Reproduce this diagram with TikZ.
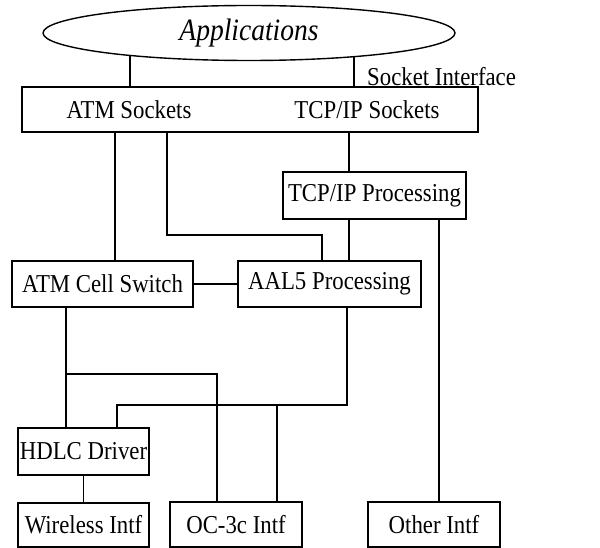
\documentclass[tikz,border=0pt]{standalone}
\usepackage{fontspec}
\usepackage{graphicx}
\setmainfont{Liberation Serif}
\usetikzlibrary{shapes.geometric}
\newcommand\tallt[1]{\scalebox{1.0}[1.13]{#1}}
\begin{document}
\begin{tikzpicture}[x=1pt,y=-1pt,
  box/.style={draw,line width=1.7pt,inner sep=0pt,minimum width=#1,align=center},
  lbl/.style={inner sep=0pt},
  conn/.style={line width=1.6pt}]
\useasboundingbox (0,0) rectangle (600,548);
\tikzset{every node/.append style={font=\fontsize{22.8}{26}\selectfont}}
% nodes
\node[draw,ellipse,line width=1.4pt,inner sep=0pt,minimum width=412pt,minimum height=55pt,
      font=\fontsize{27.5}{30}\selectfont\itshape] (app) at (249,33) {\tallt{Applications}};
\node[lbl,anchor=west] (si) at (367,77) {\tallt{Socket Interface}};
\node[box=456pt,minimum height=45pt] (sock) at (250,109.5) {};
\node[lbl] (atms) at (129,110) {\tallt{ATM Sockets}};
\node[lbl] (tcps) at (367,110) {\tallt{TCP/IP Sockets}};
\node[box=183pt,minimum height=47pt] (tcpp) at (374.5,195.5) {\tallt{TCP/IP Processing}};
\node[box=181pt,minimum height=46pt] (atmcs) at (102.5,284) {\tallt{ATM Cell Switch}};
\node[box=183pt,minimum height=46pt] (aal5) at (329.5,284) {\tallt{AAL5 Processing}};
\node[box=131pt,minimum height=47pt] (hdlc) at (83.5,451.5) {\tallt{HDLC Driver}};
\node[box=131pt,minimum height=44pt] (wire) at (83.5,525) {\tallt{Wireless Intf}};
\node[box=132pt,minimum height=45pt] (oc3) at (236,524.5) {\tallt{OC-3c Intf}};
\node[box=132pt,minimum height=45pt] (other) at (434,524.5) {\tallt{Other Intf}};
% column coordinates
\coordinate (c115) at (115,0);
\coordinate (c167) at (167,0);
\coordinate (c349) at (349,0);
\coordinate (c439) at (439,0);
\coordinate (c66) at (66,0);
\coordinate (c217) at (217,0);
\coordinate (c347) at (347,0);
\coordinate (j1) at (322,235);
\coordinate (j2) at (66,374);
\coordinate (j3) at (117,405);
\coordinate (j4) at (277,405);
% connectors
\draw[conn] (app.191.4) -- (app.191.4 |- sock.north);
\draw[conn] (app.-13.35) -- (app.-13.35 |- sock.north);
\draw[conn] (sock.south -| c115) -- (atmcs.north -| c115);
\draw[conn] (sock.south -| c167) |- (j1) -- (j1 |- aal5.north);
\draw[conn] (sock.south -| c349) -- (tcpp.north -| c349);
\draw[conn] (tcpp.south -| c349) -- (aal5.north -| c349);
\draw[conn] (tcpp.south -| c439) -- (other.north -| c439);
\draw[conn] (atmcs.east) -- (aal5.west);
\draw[conn] (atmcs.south -| c66) -- (hdlc.north -| c66);
\draw[conn] (j2) -| (c217 |- oc3.north);
\draw[conn] (aal5.south -| c347) |- (j3) -- (j3 |- hdlc.north);
\draw[conn] (j4) -- (j4 |- oc3.north);
\draw[conn] (hdlc.south) -- (wire.north);
\end{tikzpicture}
\end{document}
